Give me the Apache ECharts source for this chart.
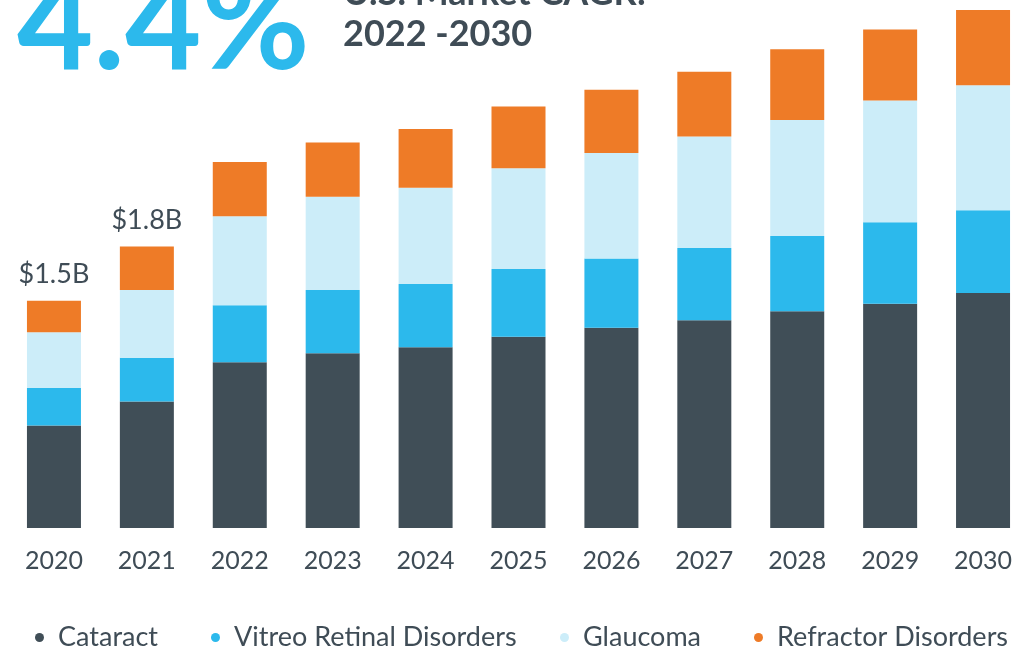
<!DOCTYPE html>
<html>
<head>
<meta charset="utf-8">
<script src="https://cdn.jsdelivr.net/npm/echarts@6/dist/echarts.min.js"></script>
<style>
html,body{margin:0;padding:0;background:#fff;}
#chart{width:1033px;height:653px;}
</style>
</head>
<body>
<div id="chart"></div>
<script>
const years = ['2020','2021','2022','2023','2024','2025','2026','2027','2028','2029','2030'];
const cataract = [0.68, 0.84, 1.10, 1.16, 1.20, 1.27, 1.33, 1.38, 1.44, 1.49, 1.56];
const vitreoRetinal = [0.25, 0.29, 0.38, 0.42, 0.42, 0.45, 0.46, 0.48, 0.50, 0.54, 0.55];
const glaucoma = [0.37, 0.45, 0.59, 0.62, 0.64, 0.67, 0.70, 0.74, 0.77, 0.81, 0.83];
const refractor = [0.21, 0.29, 0.36, 0.36, 0.39, 0.41, 0.42, 0.43, 0.47, 0.47, 0.50];
const totalLabels = ['$1.5B', '$1.8B', '', '', '', '', '', '', '', '', ''];
const seriesNames = ['Cataract', 'Vitreo Retinal Disorders', 'Glaucoma', 'Refractor Disorders'];
const colors = ['#404e57', '#2cb9ec', '#ccedf9', '#ee7b27'];
const textColor = '#3f4c56';
const font = 'Lato';

const chart = echarts.init(document.getElementById('chart'), null, {renderer: 'canvas'});
const seriesData = [cataract, vitreoRetinal, glaucoma, refractor];
const legendLefts = [30, 206, 555, 749];

const option = {
  animation: false,
  backgroundColor: '#ffffff',
  color: colors,
  grid: {left: 7.5, right: 3.5, top: 1, bottom: 125, containLabel: false},
  xAxis: {
    type: 'category',
    data: years,
    axisLine: {show: false},
    axisTick: {show: false},
    axisLabel: {color: textColor, fontSize: 25, fontFamily: font, margin: 20}
  },
  yAxis: {
    type: 'value',
    min: 0,
    max: 3.5,
    show: false,
    splitLine: {show: false}
  },
  legend: seriesNames.map((n, i) => ({
    data: [n],
    left: legendLefts[i],
    top: 619,
    icon: 'circle',
    itemWidth: 9,
    itemHeight: 9,
    textStyle: {color: textColor, fontSize: 27, fontFamily: font, padding: [0, 0, 0, 9]},
    selectedMode: false
  })),
  graphic: [
    {type: 'text', left: 17, top: -40, style: {text: '4.4%', fontSize: 132, fontWeight: 'bold', fontFamily: font, fill: '#2cb9ec'}},
    {type: 'text', left: 343, top: -25, style: {text: 'U.S. Market CAGR:', fontSize: 36, fontWeight: 'bold', fontFamily: font, fill: textColor}},
    {type: 'text', left: 343, top: 16, style: {text: '2022 -2030', fontSize: 36, fontWeight: 'bold', fontFamily: font, fill: textColor}}
  ],
  series: seriesData.map((d, i) => ({
    name: seriesNames[i],
    type: 'bar',
    stack: 'total',
    barWidth: 54,
    data: d,
    itemStyle: {color: colors[i]},
    label: i === 3 ? {
      show: true,
      position: 'top',
      distance: 13,
      color: textColor,
      fontSize: 27,
      fontFamily: font,
      formatter: p => totalLabels[p.dataIndex]
    } : {show: false}
  }))
};
chart.setOption(option);
</script>
</body>
</html>
